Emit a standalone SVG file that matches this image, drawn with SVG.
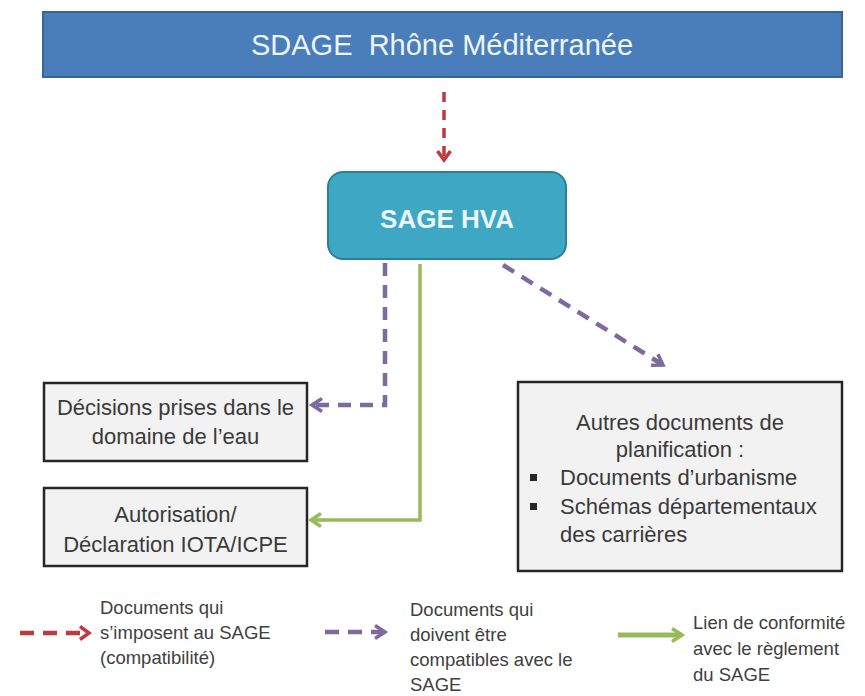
<svg xmlns="http://www.w3.org/2000/svg" width="865" height="696" viewBox="0 0 865 696">
<style>
  .box { fill: #f2f2f2; stroke: #262626; stroke-width: 2.5; }
  .bt { font-family: "Liberation Sans", Arial, sans-serif; font-size: 22px; fill: #3a3a3a; }
  .lt { font-family: "Liberation Sans", Arial, sans-serif; font-size: 18.5px; fill: #404040; }
  .red { fill: none; stroke: #c0393f; stroke-width: 3.5; stroke-dasharray: 10 8; }
  .pur { fill: none; stroke: #7f6aa0; stroke-width: 4.5; stroke-dasharray: 13 9; }
  .grn { fill: none; stroke: #98bb5a; stroke-width: 3.5; }
</style>
<defs>
  <marker id="mr" viewBox="0 0 16 16" refX="11" refY="8" markerWidth="16" markerHeight="16" markerUnits="userSpaceOnUse" orient="auto">
    <path d="M2,1.5 L11,8 L2,14.5" fill="none" stroke="#c0393f" stroke-width="3.5"/>
  </marker>
  <marker id="mp" viewBox="0 0 16 16" refX="12" refY="8" markerWidth="16" markerHeight="16" markerUnits="userSpaceOnUse" orient="auto">
    <path d="M2,1.5 L12,8 L2,14.5" fill="none" stroke="#7f6aa0" stroke-width="3.5"/>
  </marker>
  <marker id="mg" viewBox="0 0 16 16" refX="12" refY="8" markerWidth="16" markerHeight="16" markerUnits="userSpaceOnUse" orient="auto">
    <path d="M2,1.5 L12,8 L2,14.5" fill="none" stroke="#98bb5a" stroke-width="3.5"/>
  </marker>
</defs>
<rect width="865" height="696" fill="#ffffff"/>

<g id="sdage">
  <rect x="43" y="12" width="799" height="65" fill="#4a7ebb" stroke="#3b6496" stroke-width="2"/>
  <text x="442" y="55" text-anchor="middle" font-family="Liberation Sans, Arial, sans-serif" font-size="29" fill="#eef4fb" xml:space="preserve">SDAGE  Rhône Méditerranée</text>
</g>

<g id="sage">
  <rect x="328" y="172" width="238" height="87" rx="15" ry="15" fill="#3ea7c3" stroke="#2d7f96" stroke-width="2"/>
  <text x="447" y="228" text-anchor="middle" font-family="Liberation Sans, Arial, sans-serif" font-size="26" font-weight="bold" fill="#eaf6f9">SAGE HVA</text>
</g>

<g id="decisions">
  <rect class="box" x="44" y="383" width="263" height="78"/>
  <text class="bt" x="175.5" y="415" text-anchor="middle">Décisions prises dans le</text>
  <text class="bt" x="175.5" y="444" text-anchor="middle">domaine de l’eau</text>
</g>

<g id="autorisation">
  <rect class="box" x="44" y="488" width="263" height="78"/>
  <text class="bt" x="175.5" y="522" text-anchor="middle">Autorisation/</text>
  <text class="bt" x="175.5" y="552" text-anchor="middle">Déclaration IOTA/ICPE</text>
</g>

<g id="autres">
  <rect class="box" x="518" y="382" width="324" height="189"/>
  <text class="bt" x="680" y="430" text-anchor="middle">Autres documents de</text>
  <text class="bt" x="680" y="457" text-anchor="middle">planification :</text>
  <rect x="530" y="474" width="7" height="7" fill="#262626"/>
  <text class="bt" x="560" y="485">Documents d’urbanisme</text>
  <rect x="530" y="503" width="7" height="7" fill="#262626"/>
  <text class="bt" x="560" y="514">Schémas départementaux</text>
  <text class="bt" x="560" y="542">des carrières</text>
</g>

<g id="connectors">
  <line class="red" x1="444" y1="92" x2="444" y2="160" marker-end="url(#mr)"/>
  <polyline class="pur" points="385,263 385,405 312,405" marker-end="url(#mp)"/>
  <polyline class="grn" points="420,264 420,520 311,520" marker-end="url(#mg)"/>
  <line class="pur" x1="503" y1="265" x2="663" y2="365" marker-end="url(#mp)"/>
</g>

<g id="legend">
  <line x1="20" y1="633" x2="89" y2="633" stroke="#c0393f" stroke-width="4.5" stroke-dasharray="14 9" marker-end="url(#mr)"/>
  <text class="lt" x="100" y="614">Documents qui</text>
  <text class="lt" x="100" y="639">s’imposent au SAGE</text>
  <text class="lt" x="100" y="664">(compatibilité)</text>

  <line x1="325" y1="632" x2="385" y2="632" stroke="#7f6aa0" stroke-width="4.5" stroke-dasharray="14 9" marker-end="url(#mp)"/>
  <text class="lt" x="410" y="616">Documents qui</text>
  <text class="lt" x="410" y="641">doivent être</text>
  <text class="lt" x="410" y="666">compatibles avec le</text>
  <text class="lt" x="410" y="691">SAGE</text>

  <line x1="618" y1="635" x2="682" y2="635" stroke="#98bb5a" stroke-width="5" marker-end="url(#mg)"/>
  <text class="lt" x="693" y="629">Lien de conformité</text>
  <text class="lt" x="693" y="655">avec le règlement</text>
  <text class="lt" x="693" y="681">du SAGE</text>
</g>
</svg>
